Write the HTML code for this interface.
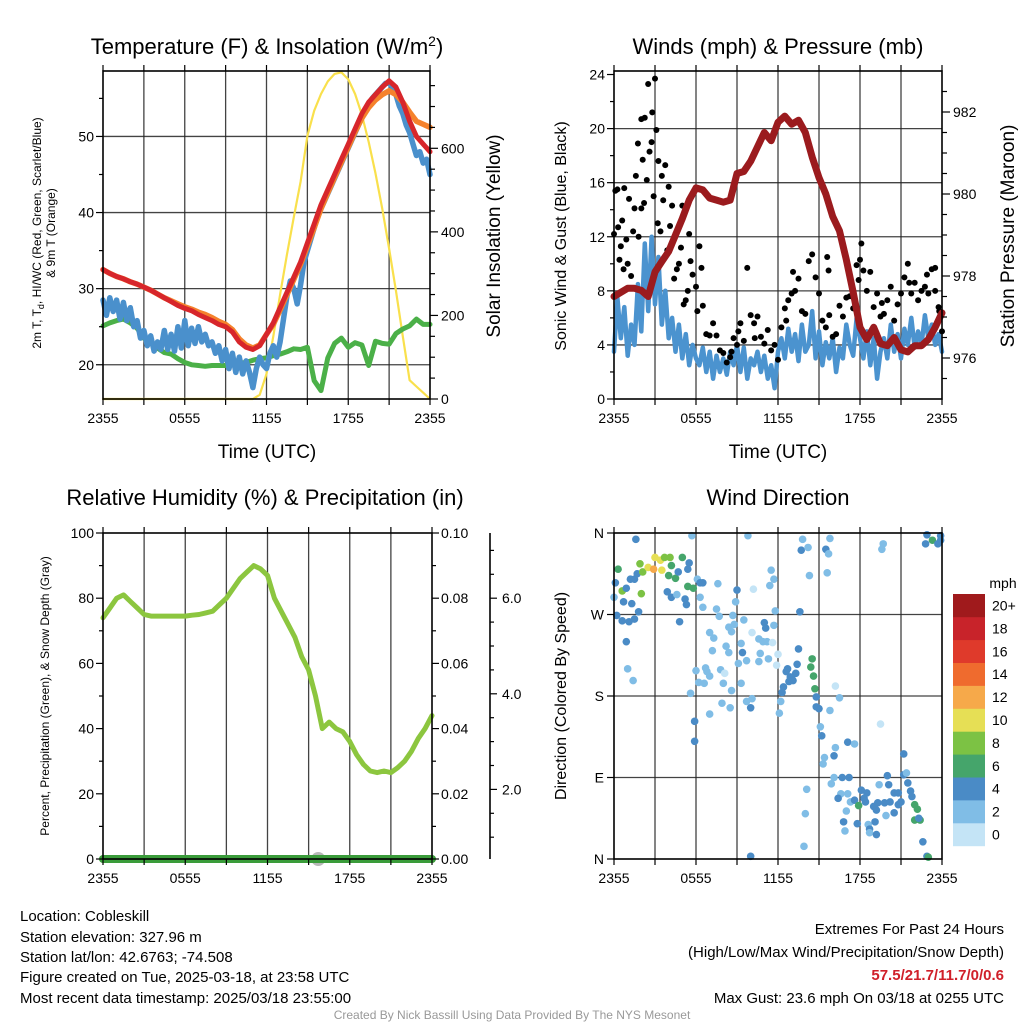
<!DOCTYPE html>
<html><head><meta charset="utf-8">
<style>
html,body{margin:0;padding:0;background:#fff;}
svg{display:block;font-family:"Liberation Sans",Arial,sans-serif;}
</style></head>
<body>
<svg id="chart" width="1024" height="1024" viewBox="0 0 1024 1024">
<g id="grid"></g>
<g id="marks"></g>
<g id="axes"></g>
<g id="text">
  <text x="267" y="54" font-size="22" text-anchor="middle">Temperature (F) &amp; Insolation (W/m<tspan dy="-8" font-size="14">2</tspan><tspan dy="8">)</tspan></text>
  <text x="778" y="54" font-size="22" text-anchor="middle">Winds (mph) &amp; Pressure (mb)</text>
  <text x="265" y="505" font-size="22" text-anchor="middle">Relative Humidity (%) &amp; Precipitation (in)</text>
  <text x="778" y="505" font-size="22" text-anchor="middle">Wind Direction</text>
  <text x="267" y="458" font-size="19" text-anchor="middle">Time (UTC)</text>
  <text x="778" y="458" font-size="19" text-anchor="middle">Time (UTC)</text>
  <text transform="translate(41,233) rotate(-90)" font-size="12" text-anchor="middle">2m T, T<tspan dy="3" font-size="9">d</tspan><tspan dy="-3">, HI/WC (Red, Green, Scarlet/Blue)</tspan></text>
  <text transform="translate(55,233) rotate(-90)" font-size="12" text-anchor="middle">&amp; 9m T (Orange)</text>
  <text transform="translate(500,236) rotate(-90)" font-size="19" text-anchor="middle">Solar Insolation (Yellow)</text>
  <text transform="translate(566,236) rotate(-90)" font-size="16" text-anchor="middle">Sonic Wind &amp; Gust (Blue, Black)</text>
  <text transform="translate(1014,236) rotate(-90)" font-size="19" text-anchor="middle">Station Pressure (Maroon)</text>
  <text transform="translate(49,696) rotate(-90)" font-size="12" text-anchor="middle">Percent, Precipitation (Green), &amp; Snow Depth (Gray)</text>
  <text transform="translate(566,696) rotate(-90)" font-size="16" text-anchor="middle">Direction (Colored By Speed)</text>
  <g font-size="15">
    <text x="20" y="921">Location: Cobleskill</text>
    <text x="20" y="942">Station elevation: 327.96 m</text>
    <text x="20" y="962">Station lat/lon: 42.6763; -74.508</text>
    <text x="20" y="982">Figure created on Tue, 2025-03-18, at 23:58 UTC</text>
    <text x="20" y="1003">Most recent data timestamp: 2025/03/18 23:55:00</text>
  </g>
  <g font-size="15" text-anchor="end">
    <text x="1004" y="934">Extremes For Past 24 Hours</text>
    <text x="1004" y="957">(High/Low/Max Wind/Precipitation/Snow Depth)</text>
    <text x="1004" y="980" font-weight="bold" fill="#d0202a">57.5/21.7/11.7/0/0.6</text>
    <text x="1004" y="1003">Max Gust: 23.6 mph On 03/18 at 0255 UTC</text>
  </g>
  <text x="512" y="1019" font-size="12" fill="#999" text-anchor="middle">Created By Nick Bassill Using Data Provided By The NYS Mesonet</text>
</g>
</svg>
<script>
// ---------- data ----------
const xTickLabels = ["2355","0555","1155","1755","2355"];
const redTemp = [32.5,32.0,31.6,31.3,30.9,30.6,30.2,29.8,29.3,28.8,28.3,27.8,27.4,27.1,26.6,26.2,25.8,25.3,25.0,24.3,23.0,22.3,22.0,22.5,24.0,25.5,27.5,29.5,31.5,33.5,36.0,38.5,41.0,43.0,45.0,47.0,49.0,51.0,53.0,54.5,55.5,56.5,57.3,56.5,54.5,52.0,50.0,49.0,48.0];
const orangeTemp = [32.5,32.0,31.6,31.3,30.9,30.6,30.2,29.8,29.3,28.8,28.4,28.0,27.6,27.3,26.9,26.6,26.2,25.7,25.3,24.6,23.4,22.6,22.2,22.6,24.0,25.3,27.2,29.2,31.2,33.2,35.6,38.0,40.5,42.6,44.6,46.6,48.6,50.6,52.4,53.8,54.8,55.5,56.0,55.5,54.5,53.2,52.0,51.6,51.2];
const dewPoint = [25.1,25.5,25.8,26.0,25.5,24.8,23.5,22.8,22.2,21.6,21.4,20.8,20.3,20.0,19.9,19.8,19.9,19.9,19.9,20.0,20.2,20.3,20.6,20.8,20.9,21.2,21.4,21.7,22.1,22.0,22.3,17.9,16.6,20.9,22.8,23.5,22.3,22.9,22.6,19.9,23.1,22.8,22.7,24.1,24.7,25.1,26.0,25.3,25.3];
const windChill = [28.5,26.5,28.8,27.0,28.5,26.0,28.2,25.8,27.5,25.0,25.8,23.5,24.5,22.5,23.8,21.8,23.0,22.0,24.5,22.0,24.0,21.8,25.0,22.2,25.8,22.5,24.8,22.8,25.0,23.0,24.0,22.5,23.0,21.5,22.5,20.5,22.0,19.5,21.5,19.0,21.0,18.8,20.5,19.0,17.0,19.5,21.0,20.0,19.5,21.5,22.5,21.0,23.0,26.0,29.0,31.0,30.0,28.0,30.5,33.5,35.0,36.5,38.0,39.5,40.5,41.5,42.5,43.5,44.5,45.5,46.5,47.5,48.5,49.5,50.5,51.5,52.5,53.5,54.0,55.0,55.5,56.0,56.5,57.0,57.0,56.5,55.5,54.0,53.0,51.5,50.5,49.0,47.5,48.0,46.5,47.0,45.0];
const solar = [0,0,0,0,0,0,0,0,0,0,0,0,0,0,0,0,0,0,0,0,0,0,0,10,60,150,250,345,435,520,630,690,730,760,778,782,765,730,680,615,540,455,360,260,150,45,30,15,0];
const windSpeed = [3.5,7.5,4.5,6.8,3.2,5.5,4.0,8.5,5.0,11.5,6.5,12.0,7.0,10.5,5.5,8.0,4.5,6.0,3.5,5.5,3.0,4.8,2.5,4.0,3.0,2.5,3.8,2.0,3.5,1.5,3.2,2.0,3.0,1.8,3.5,2.5,4.0,2.0,3.8,1.5,3.0,2.5,3.5,2.0,3.2,1.5,2.5,0.8,3.5,4.5,3.0,5.2,3.5,4.8,2.8,5.5,3.5,4.0,6.5,3.0,5.0,2.5,4.2,3.0,4.5,2.0,3.8,3.0,5.5,4.0,3.2,6.0,4.5,3.0,5.0,2.5,4.5,1.5,3.5,4.5,3.0,5.5,3.5,4.8,3.0,5.2,4.0,6.0,3.8,5.0,4.0,6.2,4.5,5.5,4.0,4.8,3.5];
const windGust = [12.2,15.5,11.3,15.6,10.0,9.1,14.1,18.9,14.1,20.8,23.3,19.0,23.7,17.6,16.5,17.3,15.7,14.3,12.2,10.0,14.3,7.3,12.2,9.2,8.3,11.3,6.9,4.8,4.7,5.6,4.7,3.6,3.4,2.7,3.1,4.5,4.0,5.6,4.3,9.7,6.2,5.6,6.1,4.6,4.1,5.1,3.6,4.0,2.9,5.3,6.7,7.3,7.8,8.0,8.9,6.5,6.3,10.2,10.7,9.0,7.8,5.8,5.3,6.2,4.6,4.8,6.9,6.1,7.5,7.6,6.7,9.9,10.3,9.5,8.0,9.4,6.8,7.8,6.1,6.3,7.3,8.3,5.8,7.0,7.8,9.0,10.0,7.8,8.6,7.3,8.0,8.3,7.8,9.6,8.0,6.8,5.0];
const extraGustHour = [0.1,0.3,0.4,0.6,0.7,0.9,1.1,1.2,1.4,1.6,1.8,2.0,2.1,2.2,2.4,2.6,2.8,2.9,3.1,3.2,3.4,3.6,3.9,4.1,4.4,4.6,4.9,5.1,5.4,5.6,6.1,6.4,8.6,9.1,10.3,12.6,13.1,15.6,15.7,17.9,18.1,19.6,21.6,22.9,23.5,23.8];
const extraGust = [15.4,12.7,10.3,13.2,9.6,11.8,14.8,8.2,12.4,16.5,12.0,20.7,17.7,14.5,16.2,18.3,21.2,15.0,19.9,13.0,12.4,14.7,11.0,12.8,8.9,9.6,11.2,7.0,8.0,10.2,6.5,9.7,3.5,5.0,4.5,5.8,9.4,10.5,9.5,8.8,11.5,7.1,8.6,9.2,9.7,6.5];
const pressure = [977.5,977.6,977.7,977.7,977.65,977.5,978.1,978.35,978.6,979.0,979.4,979.85,980.15,980.1,979.9,979.85,979.8,979.85,980.5,980.55,980.8,981.15,981.5,981.3,981.75,981.9,981.7,981.8,981.5,980.9,980.4,980.0,979.45,979.1,978.4,977.6,976.75,976.45,976.75,976.35,976.3,976.5,976.2,976.15,976.3,976.3,976.45,976.75,977.1];
const relHumidity = [74,77,80,81,79,77,75,74.5,74.5,74.5,74.5,74.5,74.5,74.8,75,75.5,76,78,80,83,86,88,90,89,87,80,76,72,68,62,58,50,40,42,40,39,36,32,29,27,26.5,27,26.5,28,30,33,37,40,44];
const precip = [0,0,0,0,0,0,0,0,0,0,0,0,0,0,0,0,0,0,0,0,0,0,0,0,0,0,0,0,0,0,0,0,0,0,0,0,0,0,0,0,0,0,0,0,0,0,0,0,0];
const snowHour = [15.7];
const snowDepth = [0.0];
const dirHour = [
1.6,5.7,9.8,13.8,13.7,14.2,15.5,15.7,15.8,19.7,
19.6,15.6,14.3,22.9,22.8,23.3,23.9,23.7,23.9,0.3,
0.1,0,0.6,0.7,0.9,1.2,1.5,1.7,1.9,2.0,
2.1,2.5,2.9,3.0,3.4,3.5,3.7,4.1,4.2,4.0,
4.5,4.7,5.0,5.5,5.4,5.4,5.8,3.9,4.2,4.6,
5.2,5.3,4.8,0.2,0.6,1.1,1.5,1.8,1.3,0.9,
1.0,1.4,6.1,6.3,6.5,6.3,6.5,7.5,7.6,7.7,
9.0,8.9,10.2,11.5,11.7,11.4,11.8,13.6,7.0,7.3,
7.2,8.4,8.6,8.8,8.7,9.5,8.2,8.4,9.3,9.4,
9.1,9.7,10.1,10.6,10.9,11.2,11.0,11.1,11.7,11.6,
10.7,10.6,11.3,12.0,11.9,6.0,6.8,7.0,6.7,7.8,
8.1,8.0,8.6,9.3,6.2,6.6,5.6,7.9,8.5,7.0,
9.7,10.1,10.0,5.9,5.9,10.0,12.6,12.9,13.1,12.7,
13.4,13.3,13.5,13.0,12.8,12.4,12.3,12.2,12.1,14.5,
14.4,14.6,14.7,14.8,14.8,15.0,15.1,15.2,15.8,16.5,
16.2,17.1,17.6,16.2,16.1,15.4,15.3,19.5,21.2,16.1,
16.7,17.2,15.9,20.0,19.4,20.1,21.2,21.4,21.5,21.7,
21.8,14.1,14.0,13.9,16.6,16.4,17.1,17.3,17.6,17.9,
18.1,18.3,18.5,18.4,19.0,19.2,19.3,19.8,20.2,20.5,
20.8,20.8,21.0,19.9,20.5,17.0,16.8,16.9,17.8,18.6,
18.7,18.7,19.2,19.1,22.0,22.2,22.0,22.4,22.3,22.6,
22.9,23.0];
const dirDeg = [
353,357,357,353,341,344,342,337,354,348,
342,316,313,358,348,352,357,348,352,320,
305,289,296,284,299,309,309,315,326,293,
317,322,320,333,330,319,333,333,324,313,
310,317,333,327,320,301,299,295,289,292,
287,281,262,269,263,262,265,273,282,240,
210,197,309,305,305,289,278,276,304,268,
297,284,298,319,309,302,274,273,250,244,
230,256,251,259,269,264,235,228,238,228,
216,219,250,243,240,240,261,255,258,239,
227,218,221,226,214,208,207,202,211,209,
205,194,186,194,195,194,183,172,167,160,
174,177,167,152,130,3,207,201,197,210,
215,205,232,200,196,190,184,174,161,221,
212,202,188,179,168,166,146,136,164,178,
191,129,127,123,114,112,105,149,116,90,
90,90,83,92,82,82,93,95,84,75,
69,77,50,14,72,67,72,63,65,59,
76,67,73,63,58,54,62,62,63,73,
60,73,63,48,51,53,41,31,39,38,
33,29,27,41,60,55,43,43,45,19,
3,2];
const dirSpeed = [
4,2,2,2,4,2,4,2,2,2,
2,2,2,4,4,6,4,4,4,6,
4,2,8,4,4,4,4,4,8,8,
8,10,12,10,10,10,8,8,6,6,
6,4,6,4,4,6,6,4,4,2,
4,4,4,4,4,4,4,4,4,4,
2,2,2,4,4,2,2,2,2,2,
4,2,0,2,2,2,2,4,2,2,
2,2,2,2,2,2,2,2,2,4,
2,2,0,2,2,2,4,4,2,0,
2,2,2,0,0,2,2,2,2,2,
0,2,2,2,2,2,2,2,2,2,
2,2,4,4,4,4,4,4,4,4,
4,4,4,4,4,4,4,2,2,6,
6,6,6,4,4,4,2,4,2,2,
0,4,2,2,4,2,2,0,4,2,
4,4,2,4,2,4,4,2,4,4,
4,2,2,2,2,4,2,2,4,6,
4,4,4,4,4,4,4,4,4,4,
4,4,4,2,4,2,4,2,4,2,
4,2,4,4,6,6,6,6,4,4,
4,6];
const dirLabels = ["N","E","S","W","N"];
const speedBinLabels = ["0","2","4","6","8","10","12","14","16","18","20+"];
const speedColors = ["#c4e4f6","#80bde6","#4a8bc6","#45a56b","#7cc244","#e6df55","#f6a94a","#ef6b2e","#df3a2b","#c8232a","#a01a1c"];

// ---------- helpers ----------
const NS="http://www.w3.org/2000/svg";
const gGrid=document.getElementById('grid'), gMarks=document.getElementById('marks'), gAxes=document.getElementById('axes');
function el(parent,tag,attrs){const e=document.createElementNS(NS,tag);for(const k in attrs)e.setAttribute(k,attrs[k]);parent.appendChild(e);return e;}
function txt(parent,x,y,s,size,anchor){const t=el(parent,'text',{x:x,y:y,'font-size':size,'text-anchor':anchor||'middle'});t.textContent=s;return t;}

const P1={l:103,r:430,t:71,b:399}, P2={l:614,r:942,t:71,b:399}, P3={l:103,r:432,t:533,b:859}, P4={l:614,r:942,t:533,b:859};
function xs(P){return h=>P.l+h/24*(P.r-P.l);}
function lin(P,lo,hi){return v=>P.b-(v-lo)/(hi-lo)*(P.b-P.t);}

const x1=xs(P1), yT=lin(P1,15.5,58.6), yS=lin(P1,0,785);
const x2=xs(P2), yW=lin(P2,0,24.26), yP=v=>112+(982-v)*41;
const x3=xs(P3), yR=lin(P3,0,100), yPr=lin(P3,0,0.10);
const x4=xs(P4), yD=lin(P4,0,360);

function frame(P,name){
  for(let h=3;h<24;h+=3){const x=P.l+h/24*(P.r-P.l);
    const ln=el(gGrid,'line',{x1:x,x2:x,y1:P.t,y2:P.b,stroke:'#222','stroke-width':1.3,'stroke-opacity':0.85});
    }
  const r=el(gAxes,'rect',{x:P.l,y:P.t,width:P.r-P.l,height:P.b-P.t,fill:'none',stroke:'#000','stroke-width':1.6});
  
  for(let h=0;h<=24;h+=3){const x=P.l+h/24*(P.r-P.l);
    el(gAxes,'line',{x1:x,x2:x,y1:P.b,y2:P.b+6,stroke:'#000','stroke-width':1.2});
    el(gAxes,'line',{x1:x,x2:x,y1:P.t,y2:P.t-6,stroke:'#000','stroke-width':1.2});}
  xTickLabels.forEach((s,i)=>{const t=txt(gAxes,P.l+i*6/24*(P.r-P.l),P.b+24,s,14);
    });
}
function hgrid(P,y,name){const ln=el(gGrid,'line',{x1:P.l,x2:P.r,y1:y,y2:y,stroke:'#222','stroke-width':1.3,'stroke-opacity':0.85});
  }
function ytick(x,y,len,side){el(gAxes,'line',{x1:x,x2:side<0?x-len:x+len,y1:y,y2:y,stroke:'#000','stroke-width':1.2});}
function path(pts,attrs,name){const d=pts.map((p,i)=>(i?'L':'M')+p[0].toFixed(1)+','+p[1].toFixed(1)).join('');
  const p=el(gMarks,'path',Object.assign({d:d,fill:'none','stroke-linejoin':'round','stroke-linecap':'round'},attrs));
  return p;}

// ---------- panel 1 ----------
frame(P1,'temperature');
[20,30,40,50].forEach(v=>{hgrid(P1,yT(v),'temperature-hgrid');const t=txt(gAxes,P1.l-9,yT(v)+5,String(v),14,'end');
  });
for(let v=20;v<=55;v+=5)ytick(P1.l,yT(v),v%10?4:7,-1);
for(let v=0;v<=750;v+=50)ytick(P1.r,yS(v),v%200?5:8,1);
[0,200,400,600].forEach(v=>{const t=txt(gAxes,P1.r+11,yS(v)+5,String(v),14,'start');
  });
path(solar.map((v,i)=>[x1(i*0.5),yS(v)]),{stroke:'#f9e04c','stroke-width':2.2},'solar-insolation-line');
path(dewPoint.map((v,i)=>[x1(i*0.5),yT(v)]),{stroke:'#4bb048','stroke-width':5},'dewpoint-line');
path(windChill.map((v,i)=>[x1(i*0.25),yT(v)]),{stroke:'#4a90cc','stroke-width':5.5},'wind-chill-line');
path(orangeTemp.map((v,i)=>[x1(i*0.5),yT(v)]),{stroke:'#f5822c','stroke-width':5.5},'temp-9m-line');
path(redTemp.map((v,i)=>[x1(i*0.5),yT(v)]),{stroke:'#d7262b','stroke-width':5},'temp-2m-line');

// ---------- panel 2 ----------
frame(P2,'wind');
[4,8,12,16,20].forEach(v=>hgrid(P2,yW(v),'wind-hgrid'));
for(let v=0;v<=24;v+=2)ytick(P2.l,yW(v),v%4?4:7,-1);
[0,4,8,12,16,20,24].forEach(v=>{const t=txt(gAxes,P2.l-9,yW(v)+5,String(v),14,'end');
  });
for(let v=975;v<=983;v+=0.5){const y=yP(v);if(y>P2.t&&y<P2.b)ytick(P2.r,y,v%2?5:8,1);}
[976,978,980,982].forEach(v=>{const t=txt(gAxes,P2.r+11,yP(v)+5,String(v),14,'start');
  });
path(windSpeed.map((v,i)=>[x2(i*0.25),yW(v)]),{stroke:'#4b93cf','stroke-width':4.5},'sonic-wind-line');
windGust.forEach((v,i)=>{const c=el(gMarks,'circle',{cx:x2(i*0.25),cy:yW(v),r:3,fill:'#000'});
  
  });
extraGust.forEach((v,i)=>{const c=el(gMarks,'circle',{cx:x2(extraGustHour[i]),cy:yW(v),r:3,fill:'#000'});
  
  });
path(pressure.map((v,i)=>[x2(i*0.5),yP(v)]),{stroke:'#9b1b1e','stroke-width':7},'station-pressure-line');

// ---------- panel 3 ----------
frame(P3,'humidity');
for(let v=0;v<=100;v+=10)ytick(P3.l,yR(v),v%20?4:7,-1);
[0,20,40,60,80,100].forEach(v=>{const t=txt(gAxes,P3.l-9,yR(v)+5,String(v),14,'end');
  });
for(let v=0;v<=0.1001;v+=0.01)ytick(P3.r,yPr(v),Math.round(v*100)%2?4:7,1);
[0,0.02,0.04,0.06,0.08,0.10].forEach(v=>{const t=txt(gAxes,P3.r+9,yPr(v)+5,v.toFixed(2),14,'start');
  });
const snowAxis=el(gAxes,'line',{x1:490,x2:490,y1:533,y2:859,stroke:'#000','stroke-width':1.6});

const ySn=v=>885-v*47.8;
for(let v=0.5;v<=7.0;v+=0.5){const y=ySn(v);if(y>=533&&y<=859)ytick(490,y,v%2?4:7,1);}
[2,4,6].forEach(v=>{const t=txt(gAxes,502,ySn(v)+5,v.toFixed(1),14,'start');
  });
path(relHumidity.map((v,i)=>[x3(i*0.5),yR(v)]),{stroke:'#8cc63f','stroke-width':5},'relative-humidity-line');
snowHour.forEach((h,i)=>{const c=el(gMarks,'circle',{cx:x3(h),cy:P3.b-snowDepth[i]*47.8,r:7,fill:'#b8b8b8'});
  
  });
path(precip.map((v,i)=>[x3(i*0.5),yPr(v)]),{stroke:'#3a9c3a','stroke-width':8},'precipitation-line');

// ---------- panel 4 ----------
frame(P4,'direction');
[90,180,270].forEach(v=>hgrid(P4,yD(v),'direction-hgrid'));
dirLabels.forEach((s,i)=>{ytick(P4.l,yD(i*90),7,-1);const t=txt(gAxes,P4.l-10,yD(i*90)+5,s,14,'end');
  });
dirDeg.forEach((d,i)=>{const sp=dirSpeed[i]||0;const bin=Math.max(0,Math.min(10,Math.round(sp/2)));
  const c=el(gMarks,'circle',{cx:x4(dirHour[i]),cy:yD(d),r:3.8,fill:speedColors[bin]});
  
  });
const cb=el(gAxes,'g',{});


const cbTop=594, cbH=22.9;
speedBinLabels.forEach((s,i)=>{const j=10-i;const y=cbTop+j*cbH;
  el(cb,'rect',{x:953,y:y,width:32,height:cbH+0.3,fill:speedColors[i]});
  const t=txt(cb,992,y+cbH/2+5,s,14,'start');
  });
const mt=txt(cb,1003,588,'mph',14,'middle');

</script>
</body></html>
